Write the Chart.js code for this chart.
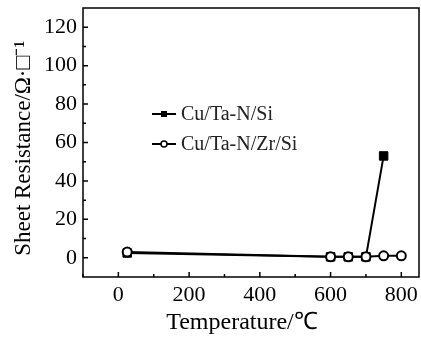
<!DOCTYPE html>
<html>
<head>
<meta charset="utf-8">
<script src="https://cdn.jsdelivr.net/npm/chart.js@4.4.0/dist/chart.umd.min.js"></script>
<style>
  body { margin: 0; background: #fff; }
  canvas { display: block; }
</style>
</head>
<body>
<canvas id="c" width="421" height="342"></canvas>
<script>
// values
const tempTaN = [25, 600, 650, 700, 750];
const resTaN = [2.5, 0.5, 0.5, 0.5, 53];
const tempTaNZr = [25, 600, 650, 700, 750, 800];
const resTaNZr = [3, 0.5, 0.5, 0.5, 1, 1];
const xTicks = [0, 200, 400, 600, 800];
const xMinor = [-100, 100, 300, 500, 700];
const yTicks = [0, 20, 40, 60, 80, 100, 120];
const yMinor = [10, 30, 50, 70, 90, 110];

const serif = '"Liberation Serif", "Times New Roman", serif';
const pts = (xs, ys) => xs.map((x, i) => ({ x: x, y: ys[i] }));

const frame = {
  id: 'frame',
  afterDraw(chart) {
    const { ctx, chartArea: a, scales: { x, y } } = chart;
    ctx.save();
    ctx.strokeStyle = '#000';
    ctx.lineWidth = 1.5;
    ctx.strokeRect(a.left, a.top, a.right - a.left, a.bottom - a.top);
    ctx.beginPath();
    xTicks.forEach(v => { const p = x.getPixelForValue(v); ctx.moveTo(p, a.bottom); ctx.lineTo(p, a.bottom - 5); });
    xMinor.forEach(v => { const p = x.getPixelForValue(v); ctx.moveTo(p, a.bottom); ctx.lineTo(p, a.bottom - 3); });
    yTicks.forEach(v => { const p = y.getPixelForValue(v); ctx.moveTo(a.left, p); ctx.lineTo(a.left + 5, p); });
    yMinor.forEach(v => { const p = y.getPixelForValue(v); ctx.moveTo(a.left, p); ctx.lineTo(a.left + 3, p); });
    ctx.stroke();

    // legend inside the plot
    const rows = [
      { label: chart.data.datasets[1].label, y: 114, square: true },
      { label: chart.data.datasets[0].label, y: 144, square: false }
    ];
    rows.forEach(r => {
      ctx.strokeStyle = '#000';
      ctx.lineWidth = 2;
      ctx.beginPath();
      ctx.moveTo(152, r.y); ctx.lineTo(176, r.y);
      ctx.stroke();
      if (r.square) {
        ctx.fillStyle = '#000';
        ctx.fillRect(161, r.y - 3, 6, 6);
      } else {
        ctx.fillStyle = '#fff';
        ctx.lineWidth = 1.5;
        ctx.beginPath();
        ctx.arc(164, r.y, 3, 0, Math.PI * 2);
        ctx.fill();
        ctx.stroke();
      }
      ctx.fillStyle = '#222';
      ctx.font = '20px ' + serif;
      ctx.textBaseline = 'middle';
      ctx.fillText(r.label, 181, r.y + 1);
    });
    ctx.restore();
  }
};

new Chart(document.getElementById('c'), {
  type: 'scatter',
  data: {
    datasets: [
      {
        label: 'Cu/Ta-N/Zr/Si',
        data: pts(tempTaNZr, resTaNZr),
        showLine: true,
        borderColor: '#000',
        borderWidth: 2,
        pointStyle: 'circle',
        pointRadius: 4.5,
        pointBorderWidth: 2,
        pointBackgroundColor: '#fff',
        pointBorderColor: '#000',
        order: 0
      },
      {
        label: 'Cu/Ta-N/Si',
        data: pts(tempTaN, resTaN),
        showLine: true,
        borderColor: '#000',
        borderWidth: 2,
        pointStyle: 'rect',
        pointRadius: 6,
        pointBorderWidth: 1,
        pointBackgroundColor: '#000',
        pointBorderColor: '#000',
        order: 1
      }
    ]
  },
  options: {
    responsive: false,
    animation: false,
    layout: { autoPadding: false, padding: { top: 8, right: 2, left: 0, bottom: 0 } },
    plugins: { legend: { display: false }, tooltip: { enabled: false } },
    scales: {
      x: {
        type: 'linear',
        min: -100,
        max: 850,
        afterBuildTicks: s => { s.ticks = xTicks.map(v => ({ value: v })); },
        afterFit: s => { s.height = 65; s.paddingLeft = 0; s.paddingRight = 0; },
        grid: { display: false, drawTicks: false },
        border: { display: false },
        ticks: { color: '#000', padding: 5, maxRotation: 0, font: { family: serif, size: 22 } },
        title: {
          display: true,
          text: 'Temperature/℃\u00A0\u00A0\u00A0',
          color: '#000',
          padding: { top: 0, bottom: 5 },
          font: { family: serif, size: 24 }
        }
      },
      y: {
        type: 'linear',
        min: -10,
        max: 130,
        afterBuildTicks: s => { s.ticks = yTicks.map(v => ({ value: v })); },
        afterFit: s => { s.width = 83; s.paddingTop = 0; s.paddingBottom = 0; },
        grid: { display: false, drawTicks: false },
        border: { display: false },
        ticks: { color: '#000', padding: 6, font: { family: serif, size: 22 } },
        title: {
          display: true,
          text: 'Sheet Resistance/Ω·□⁻¹\u00A0\u00A0',
          color: '#000',
          padding: { top: 10, bottom: 0 },
          font: { family: serif, size: 23 }
        }
      }
    }
  },
  plugins: [frame]
});
</script>
</body>
</html>
